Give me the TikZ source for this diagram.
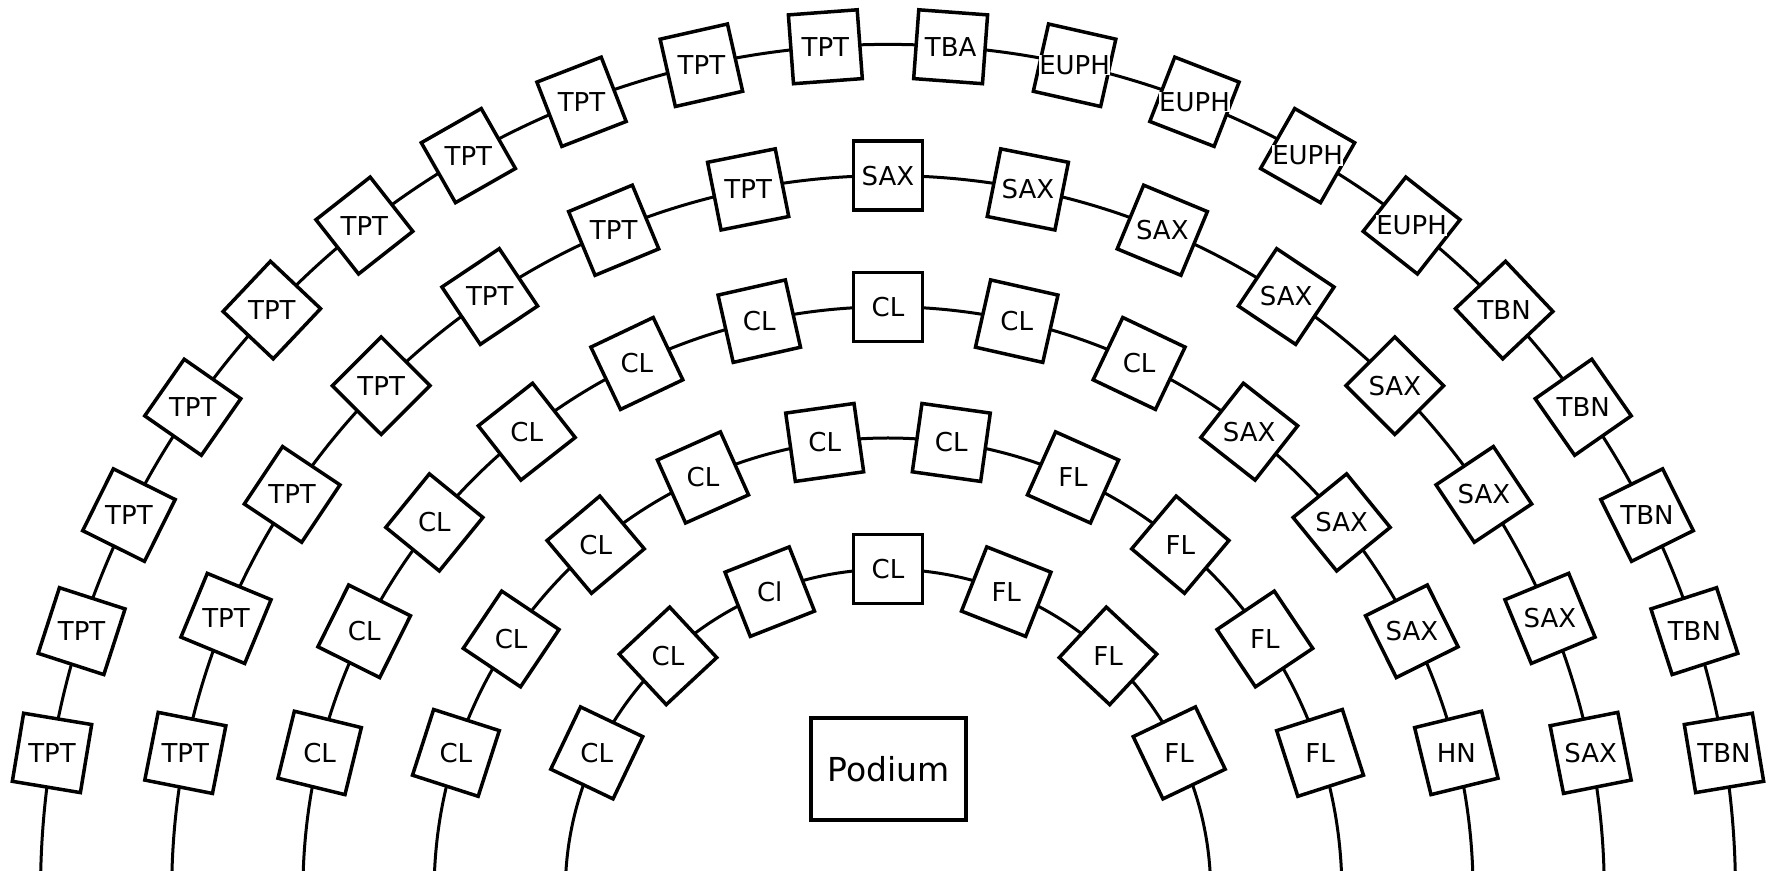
\documentclass[tikz,border=0pt]{standalone}
\usepackage{fontspec}
\setmainfont{DejaVu Sans}
\usepackage{tikz}
\usetikzlibrary{calc,positioning}

\begin{document}
\begin{tikzpicture}[x=1pt,y=1pt,line width=3pt,
                    seat node/.style={draw,line width=3.5pt,fill=white,minimum size=69pt,inner sep=0pt},
                    name node/.style={fill=white,inner sep=0.5pt,font=\fontsize{26}{26}\selectfont},
                    podium node/.style={draw,line width=3.5pt,minimum width=155pt,minimum height=102pt,font=\fontsize{33}{33}\selectfont}]

  \useasboundingbox (-888,21.9) rectangle (881,891.9);
  \clip (-888,21.9) rectangle (881,891.9);

  % one arc per row, seats spread evenly from the lowest seat on the left to the right
  \foreach \rad/\n/\names [count=\row] in {
      322.7/7/{CL,CL,Cl,CL,FL,FL,FL},
      453.9/10/{CL,CL,CL,CL,CL,CL,FL,FL,FL,FL},
      585.1/13/{CL,CL,CL,CL,CL,CL,CL,CL,CL,SAX,SAX,SAX,HN},
      716.3/15/{TPT,TPT,TPT,TPT,TPT,TPT,TPT,SAX,SAX,SAX,SAX,SAX,SAX,SAX,SAX},
      847.5/20/{TPT,TPT,TPT,TPT,TPT,TPT,TPT,TPT,TPT,TPT,TBA,EUPH,EUPH,EUPH,EUPH,TBN,TBN,TBN,TBN,TBN}} {
    \draw (0:\rad pt) arc[start angle=0,end angle=180,radius=\rad pt];
    \pgfmathsetmacro\lowang{asin(139/\rad)}
    \pgfmathsetmacro\stepang{(180-2*\lowang)/(\n-1)}
    \foreach \lab [count=\i] in \names {
      \pgfmathsetmacro\ang{180-\lowang-(\i-1)*\stepang}
      \node[seat node,rotate=\ang-90] (s\row-\i) at (\ang:\rad pt) {};
      \node[name node] at (s\row-\i) {\lab};
    }
  }

  \node[podium node] (podium) at (0.5,122.9) {Podium};

\end{tikzpicture}
\end{document}
